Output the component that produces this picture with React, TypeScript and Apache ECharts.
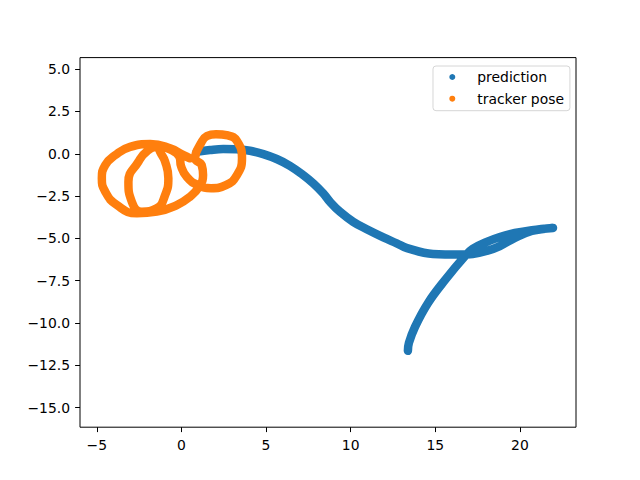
import React, { useEffect, useRef } from "react";
import * as echarts from "echarts";

// Axis ticks
const xTicks = [-5, 0, 5, 10, 15, 20];
const yTicks = [5, 2.5, 0, -2.5, -5, -7.5, -10, -12.5, -15];

// prediction path
const predX = [13.38, 13.44, 13.8, 14.57, 15.58, 16.76, 17.21, 18.04, 18.81, 19.7, 20.7, 21.95,
  20.7, 19.7, 18.81, 18.04, 17.21, 16.45, 14.86, 13.33, 12.72, 11.93, 10.95, 10.15, 9.37, 8.78, 8.38, 7.79, 7.2, 6.41, 5.63, 4.84, 4.05, 3.27, 2.47, 1.69, 0.9];
const predY = [-11.64, -11.17, -10.22, -8.81, -7.45, -6.04, -5.62, -5.21, -4.92, -4.68, -4.51, -4.38,
  -4.56, -4.97, -5.45, -5.74, -5.92, -5.95, -5.92, -5.57, -5.29, -4.94, -4.46, -4.02, -3.43, -2.84, -2.34, -1.75, -1.26, -0.71, -0.31, -0.02, 0.18, 0.26, 0.28, 0.22, 0.12];

// tracker pose path
const trackX = [0.51, 0.12, -0.67, -1.84, -3.03, -3.91, -4.5, -4.7, -4.5, -3.81, -2.63, -1.45, -0.27, 0.51, 1.04, 1.28, 1.2, 0.81,
  1.16, 1.51, 2.04, 2.75, 3.28, 3.58, 3.28, 2.63, 1.75, 0.98, 0.33, -0.02, -0.11, -0.67, -1.36,
  -2.02, -2.54, -3.13, -2.93, -2.34, -1.45, -0.96, -0.77, -0.96, -1.26, -1.36];
const trackY = [-0.27, -0.08, 0.32, 0.57, 0.41, -0.08, -0.67, -1.45, -2.24, -3.03, -3.52, -3.42, -3.03, -2.54, -1.95, -1.26, -0.67, -0.27,
  0.63, 1.05, 1.16, 1.08, 0.75, -0.25, -1.26, -1.85, -2.03, -1.85, -1.38, -0.73, -0.19, 0.25, 0.41,
  0.16, -0.47, -1.65, -2.83, -3.42, -3.22, -2.44, -1.45, -0.47, 0.12, 0.41];

const seriesNames = ["prediction", "tracker pose"];
const colors = ["#1f77b4", "#ff7f0e"];

const FONT = "DejaVu Sans";
const FS = 13.9;
const minus = (s: string) => s.replace("-", "\u2212");

export default function App() {
  const ref = useRef<HTMLDivElement>(null);
  useEffect(() => {
    if (!ref.current) return;
    const chart = echarts.init(ref.current, undefined, { renderer: "svg" });
    const pred = predX.map((x, i) => [x, predY[i]]);
    const track = trackX.map((x, i) => [x, trackY[i]]);
    const mkSeries = (name: string, data: number[][], color: string, smooth: number) => ({
      name,
      type: "line",
      data,
      smooth,
      showSymbol: false,
      symbol: "none",
      silent: true,
      emphasis: { disabled: true },
      itemStyle: { color },
      lineStyle: { color, width: 8.5, cap: "round", join: "round" },
    });
    chart.setOption({
      animation: false,
      backgroundColor: "#ffffff",
      grid: {
        left: 80,
        right: 64,
        top: 57.6,
        bottom: 52.8,
        show: true,
        borderColor: "#000",
        borderWidth: 1,
        backgroundColor: "transparent",
      },
      legend: {
        data: seriesNames,
        orient: "vertical",
        left: 433,
        top: 66,
        icon: "circle",
        itemWidth: 6,
        itemHeight: 6,
        itemGap: 5.7,
        padding: [3, 6, 4, 16.3],
        borderColor: "#d6d6d6",
        borderWidth: 1,
        borderRadius: 3,
        backgroundColor: "rgba(255,255,255,0.8)",
        itemStyle: { borderWidth: 0 },
        textStyle: { fontFamily: FONT, fontSize: FS, color: "#000", lineHeight: 16, padding: [0, 0, 0, 17] },
        selectedMode: false,
      },
      xAxis: {
        type: "value",
        min: -5.99,
        max: 23.31,
        axisLine: { show: false, onZero: false },
        splitLine: { show: false },
        axisTick: { show: true, customValues: xTicks, length: 4.9, lineStyle: { color: "#000", width: 1 } },
        axisLabel: {
          customValues: xTicks,
          margin: 11,
          color: "#000",
          fontFamily: FONT,
          fontSize: FS,
          formatter: (v: number) => minus(String(v)),
        },
      },
      yAxis: {
        type: "value",
        min: -16.15,
        max: 5.68,
        axisLine: { show: false, onZero: false },
        splitLine: { show: false },
        axisTick: { show: true, customValues: yTicks, length: 4.9, lineStyle: { color: "#000", width: 1 } },
        axisLabel: {
          customValues: yTicks,
          margin: 10,
          color: "#000",
          fontFamily: FONT,
          fontSize: FS,
          formatter: (v: number) => minus(v.toFixed(1)),
        },
      },
      series: [
        mkSeries(seriesNames[0], pred, colors[0], 0.4),
        mkSeries(seriesNames[1], track, colors[1], 0.5),
      ],
    });
    return () => chart.dispose();
  }, []);
  return (
    <div
      ref={ref}
      style={{ position: "fixed", left: 0, top: 0, width: 640, height: 480 }}
    />
  );
}
